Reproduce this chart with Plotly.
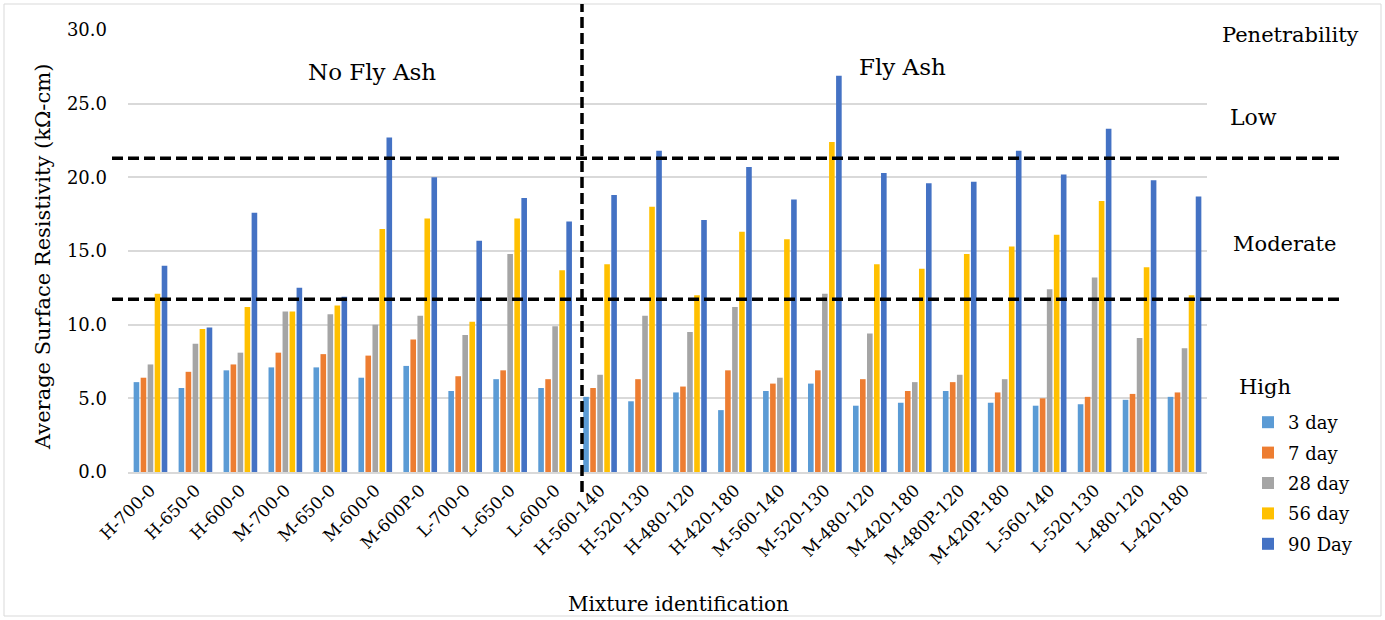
import plotly.graph_objects as go

# Mixture IDs on the x axis
mixtures = [
    "H-700-0", "H-650-0", "H-600-0", "M-700-0", "M-650-0", "M-600-0",
    "M-600P-0", "L-700-0", "L-650-0", "L-600-0",
    "H-560-140", "H-520-130", "H-480-120", "H-420-180", "M-560-140",
    "M-520-130", "M-480-120", "M-420-180", "M-480P-120", "M-420P-180",
    "L-560-140", "L-520-130", "L-480-120", "L-420-180",
]

# Average surface resistivity (kOhm-cm) by curing age
day3 = [6.1, 5.7, 6.9, 7.1, 7.1, 6.4, 7.2, 5.5, 6.3, 5.7,
        5.1, 4.8, 5.4, 4.2, 5.5, 6.0, 4.5, 4.7, 5.5, 4.7, 4.5, 4.6, 4.9, 5.1]
day7 = [6.4, 6.8, 7.3, 8.1, 8.0, 7.9, 9.0, 6.5, 6.9, 6.3,
        5.7, 6.3, 5.8, 6.9, 6.0, 6.9, 6.3, 5.5, 6.1, 5.4, 5.0, 5.1, 5.3, 5.4]
day28 = [7.3, 8.7, 8.1, 10.9, 10.7, 10.0, 10.6, 9.3, 14.8, 9.9,
         6.6, 10.6, 9.5, 11.2, 6.4, 12.1, 9.4, 6.1, 6.6, 6.3, 12.4, 13.2, 9.1, 8.4]
day56 = [12.1, 9.7, 11.2, 10.9, 11.3, 16.5, 17.2, 10.2, 17.2, 13.7,
         14.1, 18.0, 12.0, 16.3, 15.8, 22.4, 14.1, 13.8, 14.8, 15.3, 16.1, 18.4, 13.9, 12.0]
day90 = [14.0, 9.8, 17.6, 12.5, 11.9, 22.7, 20.0, 15.7, 18.6, 17.0,
         18.8, 21.8, 17.1, 20.7, 18.5, 26.9, 20.3, 19.6, 19.7, 21.8, 20.2, 23.3, 19.8, 18.7]

series_names = ["3 day", "7 day", "28 day", "56 day", "90 Day"]
series_colors = ["#5B9BD5", "#ED7D31", "#A5A5A5", "#FFC000", "#4472C4"]
series_values = [day3, day7, day28, day56, day90]

# Penetrability class limits (kOhm-cm)
moderate_low_limit = 21.3
high_moderate_limit = 11.72

FONT = "DejaVu Serif"
W, H = 1385, 620
L, R, T, B = 128, 178, 30, 148
PW, PH = W - L - R, H - T - B


def px(x):
    return (x - L) / PW


def py(y):
    return (H - B - y) / PH


fig = go.Figure()
for name, color, vals in zip(series_names, series_colors, series_values):
    fig.add_trace(go.Bar(
        x=mixtures, y=vals, name=name, legendgroup=name,
        marker=dict(color=color, line=dict(width=0)),
    ))

shapes = [
    # chart frame
    dict(type="rect", xref="paper", yref="paper",
         x0=px(4), x1=px(1381), y0=py(616), y1=py(4),
         line=dict(color="#d9d9d9", width=1), layer="below"),
    # class boundaries
    dict(type="line", xref="paper", yref="y",
         x0=px(112), x1=px(1339), y0=moderate_low_limit, y1=moderate_low_limit,
         line=dict(color="black", width=3.5, dash="11px,5px")),
    dict(type="line", xref="paper", yref="y",
         x0=px(112), x1=px(1339), y0=high_moderate_limit, y1=high_moderate_limit,
         line=dict(color="black", width=3.5, dash="11px,5px")),
    # split between plain and fly-ash mixtures
    dict(type="line", xref="paper", yref="paper",
         x0=px(582), x1=px(582), y0=py(492), y1=py(4),
         line=dict(color="black", width=3.5, dash="11px,5px")),
]

annotations = []
for text, x, y, size in [
    ("Penetrability", 1290, 35, 21),
    ("Low", 1253, 118, 22),
    ("Moderate", 1284, 244, 21),
    ("High", 1265, 387, 21),
    ("No Fly Ash", 372, 72, 23),
    ("Fly Ash", 903, 67, 23),
    ("Mixture identification", 678, 604, 20),
]:
    annotations.append(dict(
        text=text, xref="paper", yref="paper", x=px(x), y=py(y),
        xanchor="center", yanchor="middle", showarrow=False,
        font=dict(family=FONT, size=size, color="black"),
    ))
annotations.append(dict(
    text="Average Surface Resistivity (kΩ-cm)", xref="paper", yref="paper",
    x=px(43), y=py(257), xanchor="center", yanchor="middle", textangle=-90,
    showarrow=False, font=dict(family=FONT, size=21, color="black"),
))

fig.update_layout(
    width=W, height=H,
    margin=dict(l=L, r=R, t=T, b=B, autoexpand=False),
    paper_bgcolor="white", plot_bgcolor="white",
    barmode="group", bargap=0.22, bargroupgap=0.2,
    font=dict(family=FONT, size=18, color="black"),
    showlegend=True,
    legend=dict(
        x=px(1248), y=py(404), xanchor="left", yanchor="top",
        bgcolor="rgba(0,0,0,0)", font=dict(family=FONT, size=18),
        itemclick=False, traceorder="grouped", tracegroupgap=4,
    ),
    xaxis=dict(
        tickangle=-45, showgrid=False, showline=True, linecolor="#d9d9d9",
        linewidth=1.5, ticks="", tickfont=dict(family=FONT, size=17),
    ),
    yaxis=dict(
        range=[0, 30], dtick=5, tickformat=".1f", showgrid=True,
        gridcolor="#d9d9d9", gridwidth=1.5, zeroline=False, showline=False,
        ticks="", tickfont=dict(family=FONT, size=18), ticklabelstandoff=20,
    ),
    shapes=shapes, annotations=annotations,
)

fig.write_html("out.html")
